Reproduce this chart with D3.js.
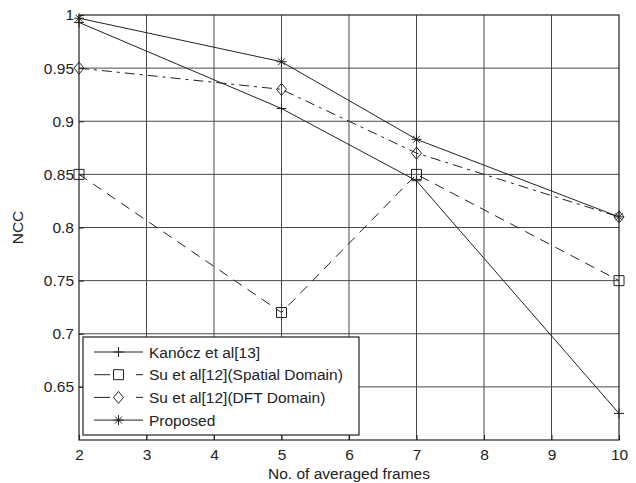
<!DOCTYPE html>
<html>
<head>
<meta charset="utf-8">
<script src="https://cdn.jsdelivr.net/npm/d3@7"></script>
<style>
body { margin: 0; background: #fff; }
text { font-family: "Liberation Sans", Arial, sans-serif; }
</style>
</head>
<body>
<svg id="chart" width="636" height="483"></svg>
<script>
// data
var frames = [2, 5, 7, 10];
var kanocz = [0.993, 0.912, 0.844, 0.625];
var suSpatial = [0.85, 0.72, 0.85, 0.75];
var suDft = [0.95, 0.93, 0.87, 0.81];
var proposed = [0.997, 0.956, 0.883, 0.81];

var xTicks = [2, 3, 4, 5, 6, 7, 8, 9, 10];
var yTicks = [0.65, 0.7, 0.75, 0.8, 0.85, 0.9, 0.95, 1];
var yTickLabels = ["0.65", "0.7", "0.75", "0.8", "0.85", "0.9", "0.95", "1"];

var series = [
	{ name: "Kanócz et al[13]", values: kanocz, marker: "plus", dash: null },
	{ name: "Su et al[12](Spatial Domain)", values: suSpatial, marker: "square", dash: "10,7" },
	{ name: "Su et al[12](DFT Domain)", values: suDft, marker: "diamond", dash: "10,5,3,5" },
	{ name: "Proposed", values: proposed, marker: "star", dash: null }
];

var LEFT = 79, RIGHT = 619, TOP = 15, BOTTOM = 440;
var INK = "#222";
var GRID = "#4a4a4a";
var FONT = "15.5px";

var svg = d3.select("#chart");

var x = d3.scaleLinear().domain([2, 10]).range([LEFT, RIGHT]);
var y = d3.scaleLinear().domain([0.6, 1]).range([BOTTOM, TOP]);

// grid
var grid = svg.append("g");
grid.selectAll("line.vx").data(xTicks.slice(1, -1)).enter().append("line")
	.attr("x1", function(d) { return x(d); }).attr("x2", function(d) { return x(d); })
	.attr("y1", TOP).attr("y2", BOTTOM)
	.attr("stroke", GRID).attr("stroke-width", 1);
grid.selectAll("line.hy").data(yTicks.slice(0, -1)).enter().append("line")
	.attr("x1", LEFT).attr("x2", RIGHT)
	.attr("y1", function(d) { return y(d); }).attr("y2", function(d) { return y(d); })
	.attr("stroke", GRID).attr("stroke-width", 1);

// axes
var xAxis = d3.axisBottom(x).tickValues(xTicks).tickSize(-5).tickPadding(9).tickFormat(d3.format("d"));
var yAxis = d3.axisLeft(y).tickValues(yTicks).tickSize(-5).tickPadding(5)
	.tickFormat(function(d, i) { return yTickLabels[i]; });

var gx = svg.append("g").attr("transform", "translate(0," + BOTTOM + ")").call(xAxis);
var gy = svg.append("g").attr("transform", "translate(" + LEFT + ",0)").call(yAxis);
[gx, gy].forEach(function(g) {
	g.select(".domain").remove();
	g.selectAll("line").attr("stroke", INK);
	g.selectAll("text").attr("fill", "#222").style("font-size", FONT)
		.style("font-family", "'Liberation Sans', Arial, sans-serif");
});

// box
svg.append("rect").attr("x", LEFT).attr("y", TOP)
	.attr("width", RIGHT - LEFT).attr("height", BOTTOM - TOP)
	.attr("fill", "none").attr("stroke", INK).attr("stroke-width", 1.2);

function drawMarker(g, type, cx, cy) {
	var p;
	if (type === "plus") {
		p = "M" + (cx - 5) + "," + cy + "H" + (cx + 5) + "M" + cx + "," + (cy - 5) + "V" + (cy + 5);
	} else if (type === "square") {
		p = "M" + (cx - 5) + "," + (cy - 5) + "h10v10h-10z";
	} else if (type === "diamond") {
		p = "M" + cx + "," + (cy - 6) + "L" + (cx + 5) + "," + cy + "L" + cx + "," + (cy + 6) + "L" + (cx - 5) + "," + cy + "z";
	} else {
		p = "M" + (cx - 5) + "," + cy + "H" + (cx + 5) + "M" + cx + "," + (cy - 5) + "V" + (cy + 5) +
			"M" + (cx - 3.5) + "," + (cy - 3.5) + "L" + (cx + 3.5) + "," + (cy + 3.5) +
			"M" + (cx - 3.5) + "," + (cy + 3.5) + "L" + (cx + 3.5) + "," + (cy - 3.5);
	}
	g.append("path").attr("d", p).attr("fill", "none").attr("stroke", INK).attr("stroke-width", 1);
}

var line = d3.line().x(function(d) { return x(d[0]); }).y(function(d) { return y(d[1]); });

series.forEach(function(s) {
	var pts = frames.map(function(f, i) { return [f, s.values[i]]; });
	var g = svg.append("g");
	g.append("path").attr("d", line(pts)).attr("fill", "none")
		.attr("stroke", INK).attr("stroke-width", 1)
		.attr("stroke-dasharray", s.dash);
	pts.forEach(function(p) { drawMarker(g, s.marker, x(p[0]), y(p[1])); });
});

// legend
var lg = svg.append("g");
lg.append("rect").attr("x", 83).attr("y", 337).attr("width", 276).attr("height", 98)
	.attr("fill", "#fff").attr("stroke", INK).attr("stroke-width", 1.2);
series.forEach(function(s, i) {
	var ly = 352 + i * 22.7;
	if (s.dash) {
		lg.append("line").attr("x1", 94).attr("x2", 110).attr("y1", ly).attr("y2", ly)
			.attr("stroke", INK).attr("stroke-width", 1);
		lg.append("line").attr("x1", 136).attr("x2", 143).attr("y1", ly).attr("y2", ly)
			.attr("stroke", INK).attr("stroke-width", 1);
	} else {
		lg.append("line").attr("x1", 94).attr("x2", 143).attr("y1", ly).attr("y2", ly)
			.attr("stroke", INK).attr("stroke-width", 1);
	}
	drawMarker(lg, s.marker, 118.5, ly);
	lg.append("text").attr("x", 149).attr("y", ly + 5.5).attr("fill", "#222")
		.style("font-size", FONT).text(s.name);
});

// axis titles
svg.append("text").attr("x", (LEFT + RIGHT) / 2).attr("y", 479)
	.attr("text-anchor", "middle").attr("fill", "#222").style("font-size", FONT)
	.text("No. of averaged frames");
svg.append("text").attr("transform", "translate(23," + ((TOP + BOTTOM) / 2) + ") rotate(-90)")
	.attr("text-anchor", "middle").attr("fill", "#222").style("font-size", FONT)
	.text("NCC");
</script>
</body>
</html>
